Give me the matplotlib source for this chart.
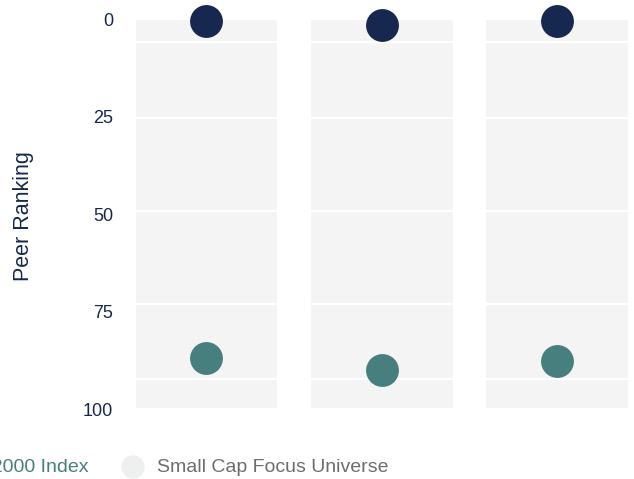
import matplotlib.pyplot as plt
from matplotlib.patches import Ellipse

plt.rcParams['font.family'] = ['Liberation Sans', 'DejaVu Sans']

# three periods (labels are cropped off in the reference)
periods = ['A', 'B', 'C']
fund_rank = [0.5, 1.5, 0.5]
index_rank = [87, 90, 87.7]
# universe percentile band edges (same for every period as drawn)
band_edges = [0, 6, 25.5, 49.3, 73, 92.3, 100]
yticks = [0, 25, 50, 75, 100]

navy = '#16284f'
teal = '#467f7e'
panel = '#f4f4f4'

fig = plt.figure(figsize=(6.34, 4.79), dpi=100)
ax = fig.add_axes([0.2123, 0.1461, 0.780, 0.8142])

xs = range(len(periods))
for lo, hi in zip(band_edges[:-1], band_edges[1:]):
    ax.bar(xs, [hi - lo] * len(periods), bottom=lo, width=0.82,
           color=panel, edgecolor='white', linewidth=1.5, zorder=1)

ax.scatter(xs, fund_rank, s=560, color=navy, zorder=3, clip_on=False, linewidths=0)
ax.scatter(xs, index_rank, s=560, color=teal, zorder=3, clip_on=False, linewidths=0)

ax.set_xlim(-0.41, 2.41)
ax.set_ylim(100, 0)
ax.set_yticks(yticks)
ax.set_yticklabels([str(t) for t in yticks], fontsize=13, color=navy)
ax.tick_params(axis='y', length=0, pad=15.5)
ax.set_xticks([])
for s in ax.spines.values():
    s.set_visible(False)

fig.text(23 / 634, 1 - 216 / 479, 'Peer Ranking', rotation=90, fontsize=15.5,
         color=navy, ha='center', va='center')

# legend row, partly cut at the left edge as in the source
fig.text(88 / 634, 1 - 468 / 479, 'Russell 2000 Index', fontsize=14, color=teal,
         ha='right', va='center')
fig.add_artist(Ellipse((133 / 634, 1 - 467 / 479), 22 / 634, 22 / 479,
                       transform=fig.transFigure, color='#eef0f0'))
fig.text(157 / 634, 1 - 468 / 479, 'Small Cap Focus Universe', fontsize=14,
         color='#6d6d6d', ha='left', va='center')

fig.savefig('out.png', dpi=100)
